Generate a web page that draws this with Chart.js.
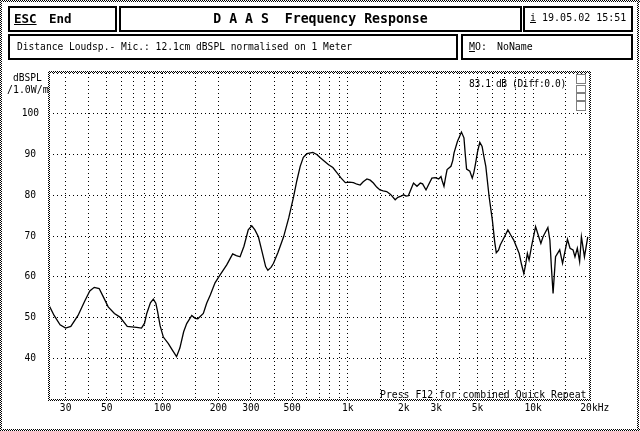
<!DOCTYPE html>
<html><head><meta charset="utf-8">
<script src="https://cdn.jsdelivr.net/npm/chart.js@4"></script>
<style>
html,body{margin:0;padding:0;background:#fff;}
#wrap{position:relative;width:640px;height:431px;overflow:hidden;background:#fff;}
#c{position:absolute;left:0;top:0;}
.t{position:absolute;font-family:"DejaVu Sans Mono",monospace;font-size:9.6px;line-height:12px;color:#000;white-space:pre;}
.b{font-weight:bold;}
.u{text-decoration:underline;}
.box{position:absolute;border:2px solid #000;box-sizing:border-box;}
</style></head>
<body>
<div id="wrap">
<canvas id="c" width="640" height="431"></canvas>
<div class="box" style="left:8px;top:6px;width:109px;height:26px;"></div>
<div class="box" style="left:119px;top:6px;width:403px;height:26px;"></div>
<div class="box" style="left:523px;top:6px;width:110px;height:26px;"></div>
<div class="box" style="left:8px;top:34px;width:450px;height:26px;"></div>
<div class="box" style="left:461px;top:34px;width:172px;height:26px;"></div>
<div class="t b u" style="left:14px;top:11px;font-size:12.5px;line-height:15px;">ESC</div>
<div class="t b" style="left:49px;top:11px;font-size:12.5px;line-height:15px;">End</div>
<div class="t b" style="left:119px;top:11px;width:403px;text-align:center;font-size:13.2px;line-height:16px;">D A A S  Frequency Response</div>
<div class="t" style="left:530px;top:12px;font-size:10px;"><span class="u">i</span> 19.05.02 15:51</div>
<div class="t" style="left:17px;top:41px;">Distance Loudsp.- Mic.: 12.1cm dBSPL normalised on 1 Meter</div>
<div class="t" style="left:469px;top:41px;font-size:9.9px;"><span class="u">M</span>O:</div>
<div class="t" style="left:497px;top:41px;font-size:9.9px;">NoName</div>
<div class="t" style="left:13px;top:72px;">dBSPL</div>
<div class="t" style="left:7px;top:84px;font-size:9.9px;">/1.0W/m</div>
<div class="t" style="left:469px;top:78px;letter-spacing:-0.4px;">83.1 dB (Diff:0.0)</div>
<div class="t" style="left:380px;top:389px;font-size:9.8px;">Press F12 for combined Quick Repeat</div>
</div>
<script>
// ---- data ----
const freqHz = [24.4,26,28,30,32,35,38,40.5,42.8,45.5,48,50.9,55,58.9,64.5,68,72.5,77,80,82.2,86,89.2,92,94,97,101,107.5,113,119,124,130,135,143.8,150,155,166,173,181,192,204,222,239,250,262,275,290,303,315,329,345,360,370,385,397,420,450,480,510,530,553,575,602,647,680,710,750,787,830,870,920,969,1020,1072,1120,1165,1210,1267,1320,1373,1430,1490,1550,1620,1700,1800,1860,1920,2000,2060,2120,2190,2260,2360,2460,2530,2640,2720,2840,2960,3090,3180,3230,3300,3370,3430,3600,3680,3740,3900,4100,4230,4300,4370,4550,4690,4780,4890,5000,5150,5300,5420,5550,5780,6020,6200,6320,6500,6640,7000,7300,7550,7850,8100,8400,8650,8900,9100,9300,9500,9800,10300,10600,11000,11300,12000,12300,12550,12800,13000,13200,13900,14400,15300,15800,16400,16800,17300,17800,18200,18900,19700];
const levelDb = [53,50.5,48.2,47.4,47.8,50.5,54,56.5,57.4,57.1,55,52.6,51,50.1,47.8,47.7,47.6,47.4,48.6,51,53.6,54.5,53.5,51.5,48,45.2,43.6,42,40.4,42.5,46.5,48.5,50.5,49.8,49.7,51,53.5,55.5,58.5,60.4,62.9,65.6,65.2,64.9,67.5,71.5,72.5,71.5,69.8,66,62.5,61.6,62.3,63.3,66,69.8,74.5,79.7,83.5,87.1,89.3,90.2,90.5,90,89.2,88.3,87.5,86.8,85.6,84.2,83.1,83.2,83.1,82.7,82.5,83.3,84,83.7,83,82,81.3,81.1,80.9,80.2,78.9,79.5,79.7,80.1,79.8,79.9,81.5,83,82.2,83,82.8,81.3,82.5,84.2,84.3,84,84.6,83.5,82.2,84.5,86.3,87.1,88.5,90.4,93.2,95.5,94.1,90,86.4,85.9,84.2,85.5,87.9,90.5,93,92,89.5,87.1,79.7,73.9,68.5,65.9,66.5,67.8,69.8,71.5,70.3,69,67.5,65.7,63,60.8,63,65.7,64.1,67.5,72.3,70.5,68.2,69.8,72.1,69,62,55.9,60.5,64.9,66.6,63.3,69.2,67,66.6,64.9,67,63.7,69.8,64.9,69.8,75.2];
const xGridHz = [30,40,50,60,70,80,90,100,150,200,300,400,500,600,700,800,900,1000,1500,2000,3000,4000,5000,6000,7000,8000,9000,10000,15000,20000];
const xLabelHz = [30,50,100,200,300,500,1000,2000,3000,5000,10000,20000];
const xLabelText = ['30','50','100','200','300','500','1k','2k','3k','5k','10k','  20kHz'];
const yLabelDb = [40,50,60,70,80,90,100];

const FONT = {family:'"DejaVu Sans Mono", monospace', size:9.6};

const checker = (() => {
  const c = document.createElement('canvas'); c.width = 2; c.height = 2;
  const g = c.getContext('2d');
  g.fillStyle = '#fff'; g.fillRect(0,0,2,2);
  g.fillStyle = '#000'; g.fillRect(0,0,1,1); g.fillRect(1,1,1,1);
  return c;
})();

const framePlugin = {
  id: 'frame',
  beforeDraw(chart) {
    const ctx = chart.ctx;
    ctx.save(); ctx.fillStyle = '#fff'; ctx.fillRect(0,0,chart.width,chart.height); ctx.restore();
  },
  afterDraw(chart) {
    const ctx = chart.ctx, a = chart.chartArea;
    ctx.save();
    ctx.fillStyle = ctx.createPattern(checker, 'repeat');
    // plot frame
    ctx.fillRect(a.left - 1, a.top - 2, 2, a.bottom - a.top + 4);
    ctx.fillRect(a.right, a.top - 2, 2, a.bottom - a.top + 4);
    ctx.fillRect(a.left - 1, a.top - 2, a.right - a.left + 3, 2);
    ctx.fillRect(a.left - 1, a.bottom, a.right - a.left + 3, 2);
    // outer window frame
    ctx.fillRect(0, 0, chart.width, 2);
    ctx.fillRect(0, chart.height - 2, chart.width, 2);
    ctx.fillRect(0, 0, 2, chart.height);
    ctx.fillRect(chart.width - 3, 0, 2, chart.height);
    // small indicator at top right
    ctx.strokeStyle = '#000'; ctx.lineWidth = 1; ctx.setLineDash([1,1]);
    const bx = a.right - 13;
    [[a.top + 1, 9],[a.top + 12, 7],[a.top + 20, 7],[a.top + 28, 9]].forEach(([y,h]) => {
      ctx.strokeRect(bx + 0.5, y + 0.5, 9, h);
    });
    ctx.restore();
  }
};

new Chart(document.getElementById('c'), {
  type: 'line',
  data: {
    datasets: [{
      data: freqHz.map((f, i) => ({x: f, y: levelDb[i]})),
      borderColor: '#000', borderWidth: 1.3, pointRadius: 0, tension: 0, fill: false
    }]
  },
  options: {
    responsive: false, animation: false, devicePixelRatio: 1,
    layout: {padding: {left: 0, top: 73, right: 51, bottom: 0}},
    plugins: {legend: {display: false}, tooltip: {enabled: false}},
    scales: {
      x: {
        type: 'logarithmic', min: 24.4, max: 20000,
        afterBuildTicks: s => { s.ticks = xGridHz.map(v => ({value: v})); },
        afterFit: s => { s.height = 32; },
        grid: {color: '#000', lineWidth: 1, drawTicks: false, tickLength: 0},
        border: {display: false, dash: [1,3]},
        ticks: {
          autoSkip: false, maxRotation: 0, minRotation: 0, padding: 4, color: '#000', font: FONT,
          callback: v => { const k = xLabelHz.indexOf(v); return k >= 0 ? xLabelText[k] : ''; }
        }
      },
      y: {
        type: 'linear', min: 30, max: 110,
        afterFit: s => { s.width = 49; },
        grid: {color: '#000', lineWidth: 1, drawTicks: false, tickLength: 0},
        border: {display: false, dash: [1,3]},
        ticks: {
          stepSize: 10, padding: 10, crossAlign: 'center', color: '#000', font: FONT,
          callback: v => yLabelDb.includes(v) ? String(v) : ''
        }
      }
    }
  },
  plugins: [framePlugin]
});
</script>
</body></html>
